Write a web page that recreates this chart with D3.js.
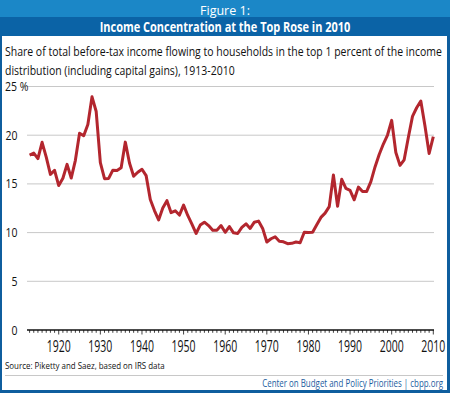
<!DOCTYPE html>
<html lang="en">
<head>
<meta charset="UTF-8">
<title>Income Concentration at the Top</title>
<style>
  body{margin:0;background:#fff}
  svg{display:block}
  .lbl{font-family:'Open Sans','Liberation Sans',sans-serif}
</style>
</head>
<body>
<div id="chart"></div>
<script src="https://d3js.org/d3.v7.min.js"></script>
<script>
/* data: top 1% income share incl. capital gains */
const years=d3.range(1913,2011);
const shares=[17.96,18.16,17.60,19.27,17.75,15.98,16.39,14.83,15.58,17.01,
  15.60,17.42,20.21,19.94,21.10,23.94,22.43,17.18,15.54,15.56,
  16.41,16.37,16.66,19.29,17.15,15.79,16.20,16.50,15.85,13.40,
  12.26,11.30,12.52,13.28,12.05,12.24,11.80,12.82,11.76,10.87,
  9.91,10.77,11.07,10.72,10.23,10.25,10.72,10.03,10.62,9.98,
  9.91,10.54,10.90,10.43,11.07,11.18,10.43,9.03,9.37,9.57,
  9.12,9.05,8.86,8.90,9.03,8.95,10.04,10.02,10.03,10.80,
  11.56,12.00,12.67,15.92,12.70,15.47,14.53,14.33,13.37,14.67,
  14.21,14.23,15.23,16.74,18.02,19.09,20.02,21.52,18.23,16.90,
  17.47,19.76,21.93,22.82,23.50,20.95,18.12,19.86];
const yTicks=[0,5,10,15,20,25];
const xTicks=[1920,1930,1940,1950,1960,1970,1980,1990,2000,2010];

const W=450,H=393;
const svg=d3.select("#chart").append("svg").attr("width",W).attr("height",H);

// put text at (x,y) and squeeze it horizontally (condensed look) so it spans w px
function txt(parent,x0,y0,s,size,w,opt={}){
  const t=parent.append("text").attr("class","lbl")
    .attr("text-anchor",opt.anchor||"start")
    .attr("fill",opt.fill||"#111")
    .style("font-size",size+"px").style("font-weight",opt.bold?"bold":"normal")
    .text(s);
  const k=opt.k||w/t.node().getComputedTextLength();
  t.attr("transform",`translate(${x0},${y0}) scale(${k},1)`);
  return k;
}

/* frame + header bands */
svg.append("rect").attr("width",W).attr("height",H).attr("fill","#0f5e9e");
svg.append("rect").attr("x",2).attr("y",36).attr("width",445).attr("height",354).attr("fill","#fff");
svg.append("rect").attr("x",0).attr("y",0).attr("width",W).attr("height",17).attr("fill","#1b87c7");
svg.append("rect").attr("x",0).attr("y",17).attr("width",W).attr("height",19).attr("fill","#0b63a6");

txt(svg,225,14.5,"Figure 1:",12.5,50,{anchor:"middle",fill:"#fff"});
txt(svg,225,31.5,"Income Concentration at the Top Rose in 2010",14,251,{anchor:"middle",fill:"#fff",bold:true});

const ks=txt(svg,5,56,"Share of total before-tax income flowing to households in the top 1 percent of the income",13.5,437);
txt(svg,5,75,"distribution (including capital gains), 1913-2010",13.5,0,{k:ks});

/* scales */
const x=d3.scaleLinear().domain([1913,2010]).range([29.6,433.3]);
const y=d3.scaleLinear().domain([0,25]).range([330,86.5]);

/* grid */
svg.append("g").selectAll("line").data(yTicks.filter(d=>d>0)).join("line")
   .attr("x1",27).attr("x2",434).attr("y1",d=>y(d)).attr("y2",d=>y(d))
   .attr("stroke","#c8c8c8").attr("stroke-width",1);

/* y labels */
const yg=svg.append("g");
const ky=txt(yg,-100,-100,"20",12.5,12);
yg.selectAll("text").remove();
yTicks.forEach(d=>{
  if(d===25) txt(yg,5,y(d)+4.5,"25 %",12.5,0,{k:ky});
  else txt(yg,17.5,y(d)+4.5,String(d),12.5,0,{k:ky,anchor:"end"});
});

/* x axis */
const xAxisG=svg.append("g").attr("transform",`translate(0,${y(0)})`);
xAxisG.append("line").attr("x1",27).attr("x2",434).attr("stroke","#111").attr("stroke-width",1.5);
xAxisG.selectAll("line.minor").data(years).join("line").attr("class","minor")
   .attr("x1",d=>x(d)).attr("x2",d=>x(d)).attr("y1",0)
   .attr("y2",d=>d%10===0?4.5:2.8).attr("stroke","#111").attr("stroke-width",0.8);
const kx=txt(xAxisG,-100,-100,"1920",15.5,24);
xAxisG.selectAll("text").remove();
xTicks.forEach(d=>txt(xAxisG,x(d),21.5,String(d),15.5,0,{k:kx,anchor:"middle"}));

/* line */
const line=d3.line().x((d,i)=>x(years[i])).y(d=>y(d));
svg.append("path").datum(shares).attr("d",line)
   .attr("fill","none").attr("stroke","#b3262e").attr("stroke-width",3)
   .attr("stroke-linejoin","round");

/* footer */
txt(svg,5,369,"Source: Piketty and Saez, based on IRS data",9.5,160);
svg.append("line").attr("x1",5).attr("x2",443).attr("y1",375.5).attr("y2",375.5)
   .attr("stroke","#c8c8c8").attr("stroke-width",1);
txt(svg,443,387,"Center on Budget and Policy Priorities | cbpp.org",10,181,{anchor:"end",fill:"#1a5c9e"});
</script>
</body>
</html>
